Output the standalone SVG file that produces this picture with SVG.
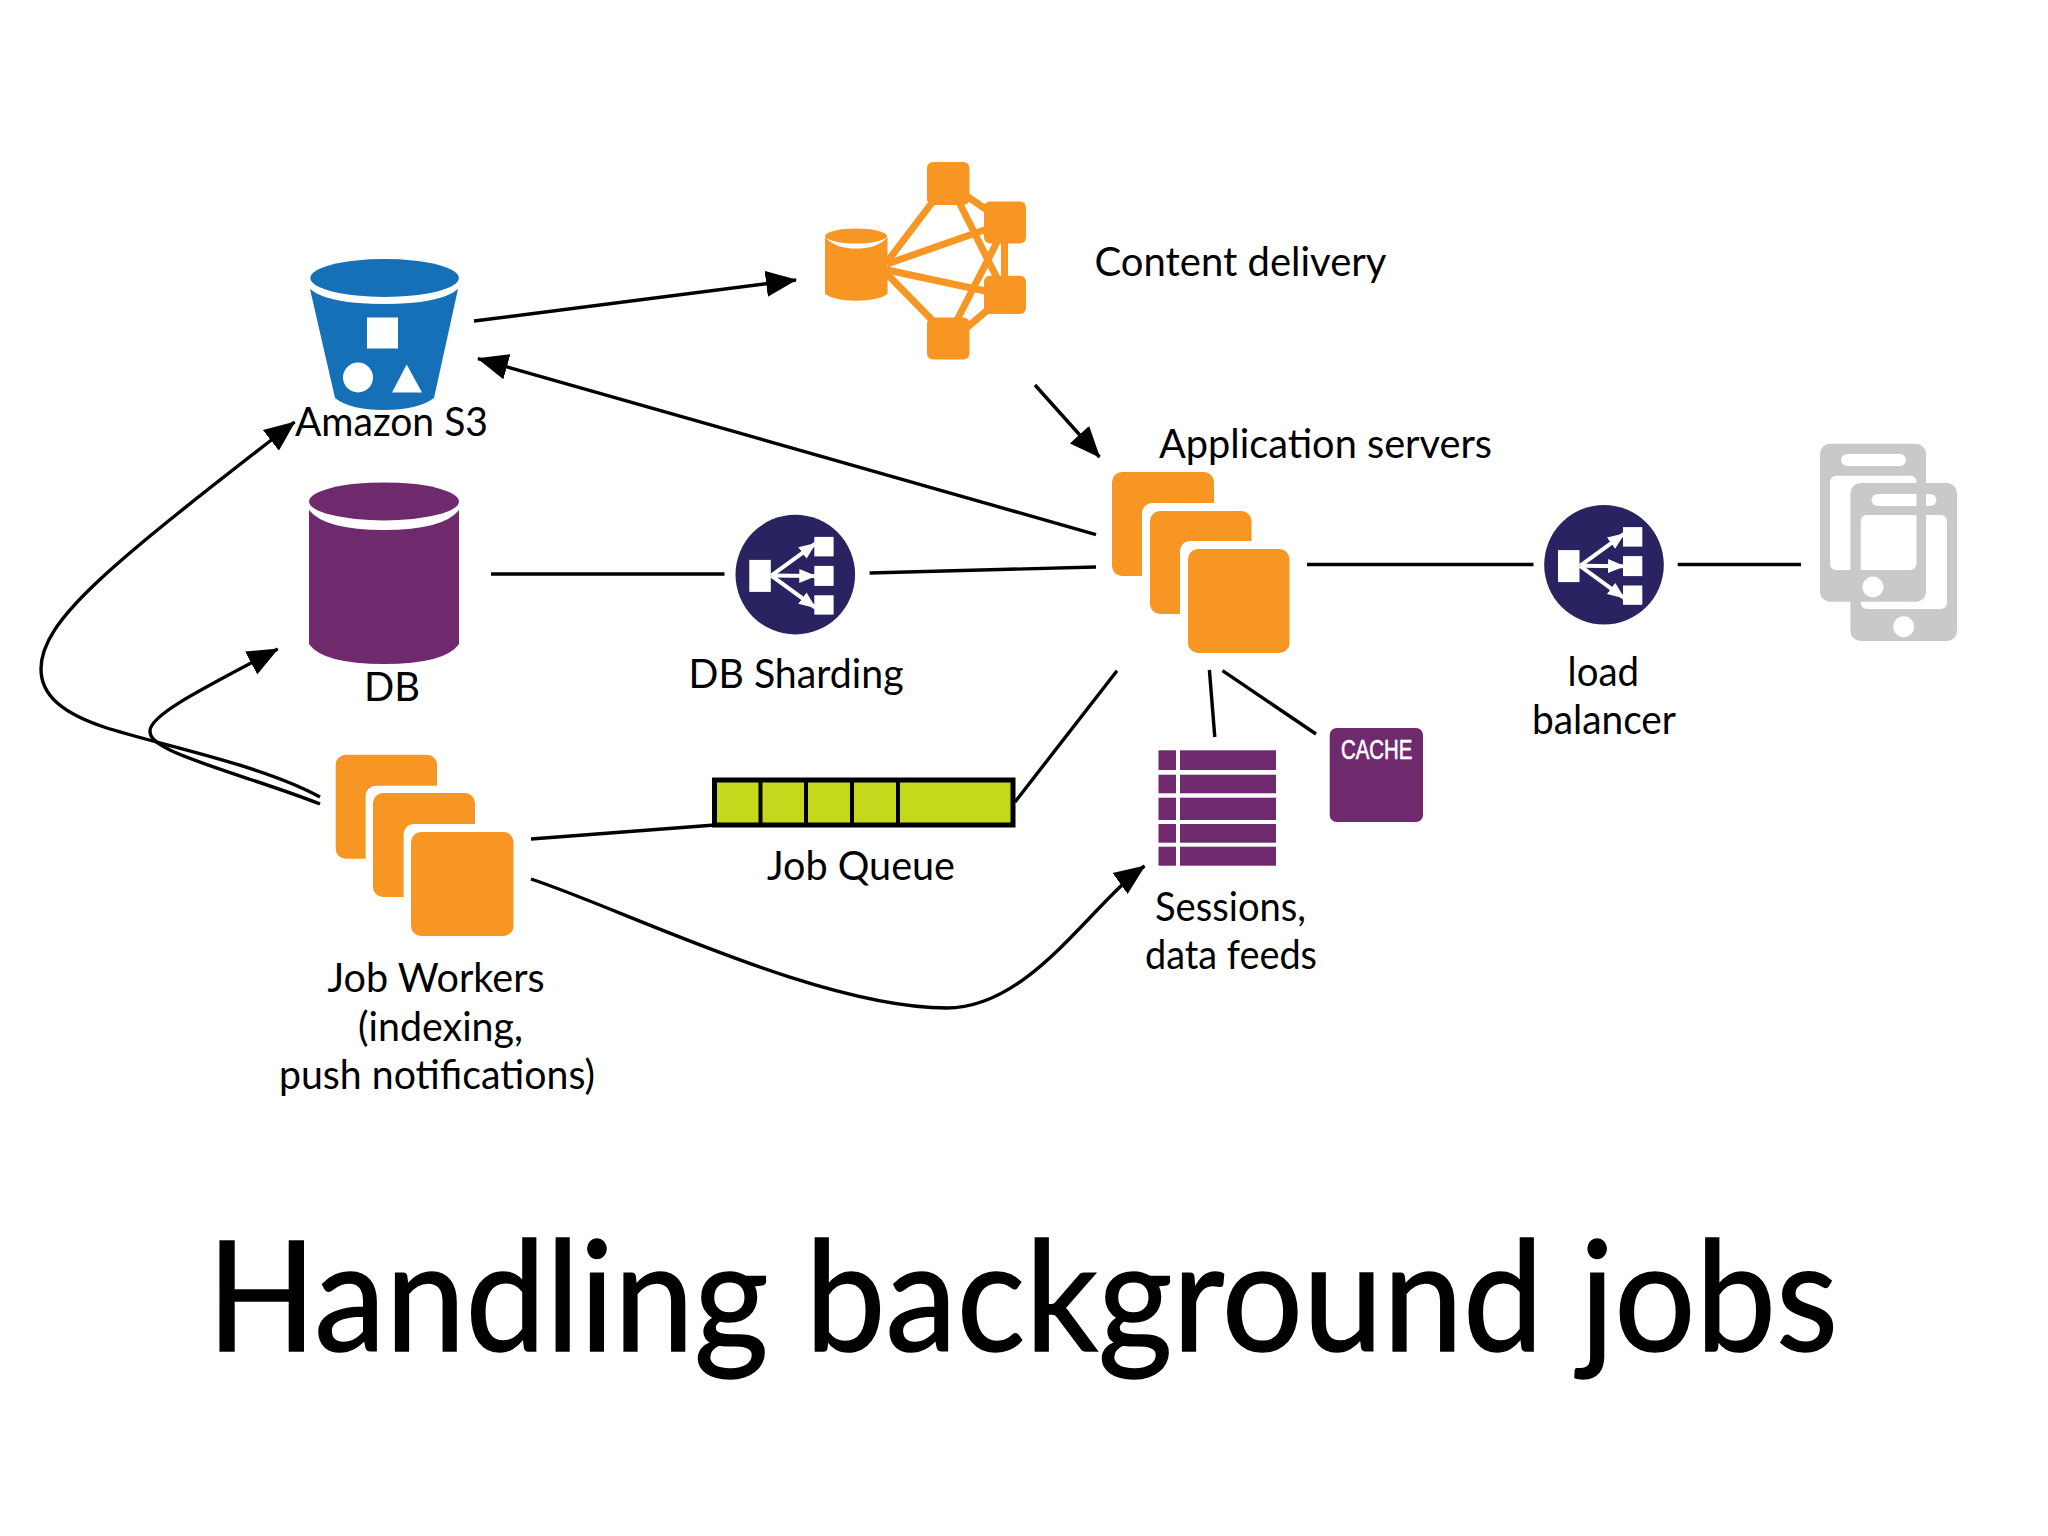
<svg xmlns="http://www.w3.org/2000/svg" xmlns:xlink="http://www.w3.org/1999/xlink" width="2048" height="1536" viewBox="0 0 2048 1536">
<style>
text{font-family:"Lato","Noto Sans",sans-serif;fill:#000;font-size:40px}
.title{font-size:154px;stroke:#000;stroke-width:1.5}
.o{fill:#f79622}.p{fill:#6f2a6d}.w{fill:#fff}
.c{fill:none;stroke:#000;stroke-width:3.4;stroke-linecap:butt}
.cdn{stroke:#f79622;stroke-width:7;fill:none}
</style>
<defs>
<marker id="ah" markerUnits="userSpaceOnUse" markerWidth="32" markerHeight="28" refX="30" refY="14" orient="auto"><path d="M0,1 L31,14 L0,27 Z" fill="#000"/></marker>
<marker id="wh" markerUnits="userSpaceOnUse" markerWidth="18" markerHeight="16" refX="16" refY="8" orient="auto"><path d="M0,1 L17,8 L0,15 Z" fill="#fff"/></marker>
<g id="lbicon">
<circle r="59.8" fill="#2a2362"/>
<rect x="-46" y="-14.7" width="21.5" height="32" class="w"/>
<rect x="19" y="-37.7" width="19.3" height="19.5" class="w"/>
<rect x="19" y="-8.7" width="19.3" height="20" class="w"/>
<rect x="19" y="20.7" width="19.3" height="19.3" class="w"/>
<g stroke="#fff" stroke-width="4" fill="none">
<line x1="-24" y1="1" x2="20" y2="-31" marker-end="url(#wh)"/>
<line x1="-24" y1="1" x2="20" y2="1.5" marker-end="url(#wh)"/>
<line x1="-24" y1="1" x2="20" y2="33" marker-end="url(#wh)"/>
</g>
</g>
</defs>
<rect width="2048" height="1536" fill="#fff"/>
<g id="connectors">
<line class="c" x1="474" y1="321" x2="796" y2="280" marker-end="url(#ah)"/>
<line class="c" x1="1096" y1="534.6" x2="478" y2="358.6" marker-end="url(#ah)"/>
<line class="c" x1="1035" y1="385" x2="1099.5" y2="457" marker-end="url(#ah)"/>
<line class="c" x1="491" y1="574" x2="724.5" y2="574"/>
<line class="c" x1="869.6" y1="573" x2="1096" y2="567"/>
<line class="c" x1="1307" y1="564.5" x2="1533.5" y2="564.5"/>
<line class="c" x1="1677.7" y1="564.5" x2="1801" y2="564.5"/>
<line class="c" x1="531" y1="839" x2="715" y2="825"/>
<line class="c" x1="1015" y1="802" x2="1117" y2="670.7"/>
<line class="c" x1="1209.4" y1="670" x2="1214.8" y2="737"/>
<line class="c" x1="1222.5" y1="670.7" x2="1316" y2="734"/>
<path class="c" d="M320,797 C260,764 155,744 104,727 C62,713 41,695 41,669 C41,620 110,565 294.6,422" marker-end="url(#ah)"/>
<path class="c" d="M320,804 C270,784 200,765 170,750 C155,742 150,738 150,731 C150,715 200,690 277.7,649" marker-end="url(#ah)"/>
<path class="c" d="M531,879 C625,910 820,1008 947,1008 C1030,1008 1090,905 1144.5,866" marker-end="url(#ah)"/>
</g>
<g id="s3">
<path d="M310,289 L335,398 Q350,410 384,410 Q418,410 434,398 L458,289 Q440,304 384,304 Q328,304 310,289 Z" fill="#1570b8"/>
<ellipse cx="384.6" cy="278" rx="74.3" ry="19" fill="#1570b8"/>
<rect x="367" y="317.5" width="31" height="31" class="w"/>
<circle cx="358" cy="377.5" r="15" class="w"/>
<polygon points="406.7,364.6 392,392.5 422,392.5" class="w"/>
<text x="295" y="436" textLength="193" lengthAdjust="spacingAndGlyphs">Amazon S3</text>
</g>
<g id="db">
<path class="p" d="M309,510 Q325,530 384,530 Q443,530 459,510 L459,644 Q445,664 384,664 Q323,664 309,644 Z"/>
<ellipse class="p" cx="384" cy="501.4" rx="75" ry="19"/>
<text x="364" y="701" textLength="56" lengthAdjust="spacingAndGlyphs">DB</text>
</g>
<g id="cdn">
<g class="cdn">
<line x1="887" y1="262" x2="934" y2="200"/>
<line x1="887" y1="264" x2="990" y2="228"/>
<line x1="887" y1="270" x2="990" y2="292"/>
<line x1="887" y1="274" x2="934" y2="322"/>
<line x1="965" y1="195" x2="990" y2="212"/>
<line x1="958" y1="200" x2="998" y2="280"/>
<line x1="998" y1="240" x2="956" y2="322"/>
<line x1="1004.5" y1="240" x2="1004.5" y2="280"/>
<line x1="990" y1="308" x2="964" y2="330"/>
</g>
<path class="o" d="M825,237 Q835,248.6 856,248.6 Q878,248.6 887.5,237 L887.5,294 Q878,300.7 856,300.7 Q835,300.7 825,294 Z"/>
<ellipse class="o" cx="856" cy="236" rx="31" ry="7.5"/>
<rect class="o" x="927" y="162" width="42.5" height="43" rx="6"/>
<rect class="o" x="984" y="201.4" width="42" height="42.2" rx="6"/>
<rect class="o" x="984" y="275.7" width="42" height="38.3" rx="6"/>
<rect class="o" x="927" y="317.5" width="42.5" height="42" rx="6"/>
<text x="1094.5" y="275.5" textLength="292" lengthAdjust="spacingAndGlyphs">Content delivery</text>
</g>
<g id="db-sharding">
<use xlink:href="#lbicon" href="#lbicon" x="795.3" y="574.6"/>
<text x="688.6" y="687.5" textLength="215" lengthAdjust="spacingAndGlyphs">DB Sharding</text>
</g>
<g id="app-servers">
<rect class="o" x="1112" y="472" width="102" height="104" rx="10"/>
<rect class="w" x="1142" y="503" width="120" height="120" rx="10"/>
<rect class="o" x="1150" y="511" width="101.5" height="103" rx="10"/>
<rect class="w" x="1180" y="541" width="120" height="120" rx="10"/>
<rect class="o" x="1188" y="549" width="101.5" height="104" rx="10"/>
<text x="1159" y="457.8" textLength="333" lengthAdjust="spacingAndGlyphs">Application servers</text>
</g>
<g id="load-balancer">
<use xlink:href="#lbicon" href="#lbicon" x="1604" y="564.8"/>
<text x="1567.6" y="686" textLength="71.4" lengthAdjust="spacingAndGlyphs">load</text>
<text x="1532" y="734" textLength="144" lengthAdjust="spacingAndGlyphs">balancer</text>
</g>
<g id="clients" fill="#c7c9cb" fill-rule="evenodd">
<path d="M1830,443.7 H1916 a10,10 0 0 1 10,10 V591.7 a10,10 0 0 1 -10,10 H1830 a10,10 0 0 1 -10,-10 V453.7 a10,10 0 0 1 10,-10 Z M1847,454 a6,6 0 0 0 0,12 H1900 a6,6 0 0 0 0,-12 Z M1836,475.7 a6,6 0 0 0 -6,6 V564 a6,6 0 0 0 6,6 H1910.5 a6,6 0 0 0 6,-6 V481.7 a6,6 0 0 0 -6,-6 Z M1873,576.5 a10.5,10.5 0 1 0 0.01,0 Z"/>
<path d="M1860.4,483 H1947 a10,10 0 0 1 10,10 V631 a10,10 0 0 1 -10,10 H1860.4 a10,10 0 0 1 -10,-10 V493 a10,10 0 0 1 10,-10 Z M1877.5,494 a6,6 0 0 0 0,12 H1930.4 a6,6 0 0 0 0,-12 Z M1866.7,515 a6,6 0 0 0 -6,6 V603 a6,6 0 0 0 6,6 H1941 a6,6 0 0 0 6,-6 V521 a6,6 0 0 0 -6,-6 Z M1903.7,616.2 a10.5,10.5 0 1 0 0.01,0 Z"/>
</g>
<g id="job-workers">
<rect class="o" x="335.7" y="754.7" width="101.3" height="104" rx="10"/>
<rect class="w" x="365.6" y="785.7" width="120" height="120" rx="10"/>
<rect class="o" x="373" y="793" width="102" height="104" rx="10"/>
<rect class="w" x="403.6" y="824" width="120" height="120" rx="10"/>
<rect class="o" x="411" y="832" width="102.5" height="104" rx="10"/>
<text x="327.6" y="991.7" textLength="217" lengthAdjust="spacingAndGlyphs">Job Workers</text>
<text x="358" y="1041" textLength="165" lengthAdjust="spacingAndGlyphs">(indexing,</text>
<text x="279" y="1089" textLength="316" lengthAdjust="spacingAndGlyphs">push notifications)</text>
</g>
<g id="job-queue">
<rect x="714.5" y="780" width="298.5" height="45" fill="#c4d91c" stroke="#000" stroke-width="5"/>
<g stroke="#000" stroke-width="4">
<line x1="760.5" y1="780" x2="760.5" y2="825"/>
<line x1="806" y1="780" x2="806" y2="825"/>
<line x1="852" y1="780" x2="852" y2="825"/>
<line x1="898" y1="780" x2="898" y2="825"/>
</g>
<text x="767" y="880" textLength="188" lengthAdjust="spacingAndGlyphs">Job Queue</text>
</g>
<g id="sessions">
<g class="p">
<rect x="1158.5" y="750.3" width="17.5" height="19.7"/><rect x="1180" y="750.3" width="96" height="19.7"/>
<rect x="1158.5" y="774.7" width="17.5" height="18.6"/><rect x="1180" y="774.7" width="96" height="18.6"/>
<rect x="1158.5" y="797.7" width="17.5" height="22.3"/><rect x="1180" y="797.7" width="96" height="22.3"/>
<rect x="1158.5" y="824" width="17.5" height="18.7"/><rect x="1180" y="824" width="96" height="18.7"/>
<rect x="1158.5" y="846.7" width="17.5" height="19"/><rect x="1180" y="846.7" width="96" height="19"/>
</g>
<text x="1155" y="921" textLength="151" lengthAdjust="spacingAndGlyphs">Sessions,</text>
<text x="1145" y="969" textLength="172" lengthAdjust="spacingAndGlyphs">data feeds</text>
</g>
<g id="cache">
<rect class="p" x="1329.7" y="728" width="93.3" height="94" rx="7"/>
<text x="1341" y="759" textLength="71.5" lengthAdjust="spacingAndGlyphs" style="font-size:27px;fill:#fff;stroke:#fff;stroke-width:.6;font-family:'Liberation Sans',sans-serif">CACHE</text>
</g>
<text class="title" x="207" y="1351" textLength="1631" lengthAdjust="spacingAndGlyphs">Handling background jobs</text>
</svg>
